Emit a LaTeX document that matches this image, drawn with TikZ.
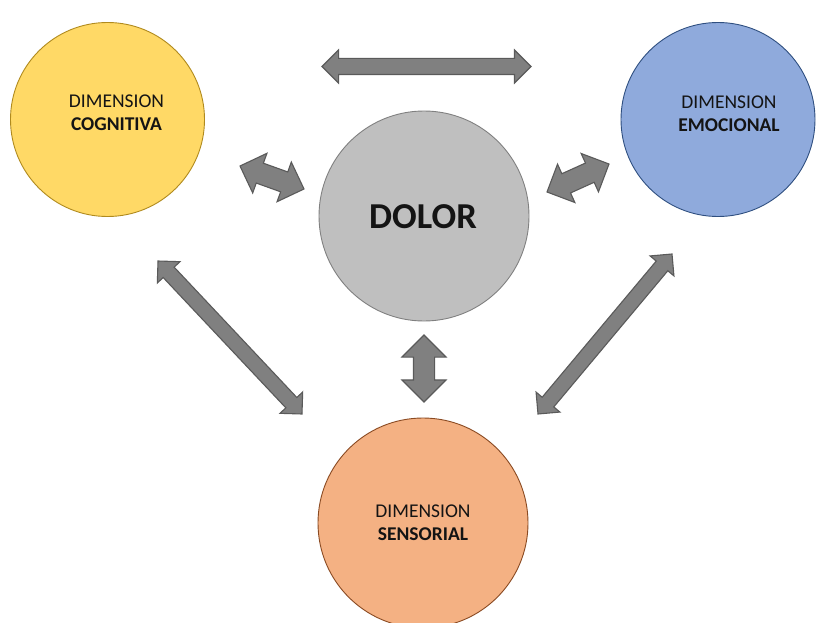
\documentclass[tikz,border=0pt]{standalone}
\usepackage{fontspec}
\setmainfont{Carlito}
\usetikzlibrary{shapes.arrows,calc}
\definecolor{cogfill}{HTML}{FFD966}
\definecolor{cogline}{HTML}{B08A1E}
\definecolor{emofill}{HTML}{8FAADC}
\definecolor{emoline}{HTML}{2F4F80}
\definecolor{dolfill}{HTML}{BFBFBF}
\definecolor{dolline}{HTML}{808080}
\definecolor{senfill}{HTML}{F4B183}
\definecolor{senline}{HTML}{8A4A22}
\definecolor{arrfill}{HTML}{808080}
\definecolor{arrline}{HTML}{5A5A5A}
\definecolor{txt}{HTML}{141414}
\tikzset{
  dim/.style={circle, line width=0.9pt, inner sep=0pt},
  dimtext/.style={align=center, text=txt, font=\fontsize{19.5}{23}\selectfont, inner sep=0pt},
  dbl/.style={double arrow, fill=arrfill, draw=arrline, line width=1.1pt,
    inner xsep=0pt, minimum width=0pt, double arrow head indent=0pt},
}
\newcommand{\blockarrow}[4]{% from, to, shaft width, head width
  \path let \p1=($(#2)-(#1)$), \n1={atan2(\y1,\x1)}, \n2={veclen(\x1,\y1)} in
    node[dbl, rotate=\n1, minimum height=\n2, inner ysep=#3/2,
         double arrow head extend={(#4-#3)/2}] at ($(#1)!0.5!(#2)$) {};
}
\begin{document}
\begin{tikzpicture}[x=1pt,y=-1pt]
\useasboundingbox (0,0) rectangle (821,623);
\clip (0,0) rectangle (821,623);
% circles
\node[dim, fill=cogfill, draw=cogline, minimum size=194pt] (cog) at (107.5,119.5) {};
\node[dim, fill=emofill, draw=emoline, minimum size=194pt] (emo) at (718,119.5) {};
\node[dim, fill=dolfill, draw=dolline, minimum size=210pt] (dol) at (424,216) {};
\node[dim, fill=senfill, draw=senline, minimum size=210pt] (sen) at (423,523) {};
% texts
\node[dimtext] (cogt) at (116.5,113) {DIMENSION\\\textbf{COGNITIVA}};
\node[dimtext] (emot) at (729,114) {DIMENSION\\\textbf{EMOCIONAL}};
\node[dimtext] (sent) at (423,523) {DIMENSION\\\textbf{SENSORIAL}};
\node[text=txt, font=\fontsize{36.5}{42}\selectfont\bfseries, inner sep=0pt] (dolt) at (423,217) {DOLOR};
% arrow end points
\coordinate (t1) at (322,66.5);
\coordinate (t2) at (531,66.5);
\coordinate (a1) at (240,166);
\coordinate (a2) at (304,189);
\coordinate (b1) at (547,192);
\coordinate (b2) at (609,164);
\coordinate (v1) at (424,335);
\coordinate (v2) at (424,402);
\coordinate (l1) at (158,261);
\coordinate (l2) at (302,414);
\coordinate (r1) at (672,254);
\coordinate (r2) at (538,414);
% block arrows
\blockarrow{t1}{t2}{15pt}{32pt}
\blockarrow{a1}{a2}{20pt}{41pt}
\blockarrow{b1}{b2}{20pt}{41pt}
\blockarrow{v1}{v2}{20pt}{43pt}
\blockarrow{l1}{l2}{14pt}{30pt}
\blockarrow{r1}{r2}{14pt}{30pt}
\end{tikzpicture}
\end{document}
